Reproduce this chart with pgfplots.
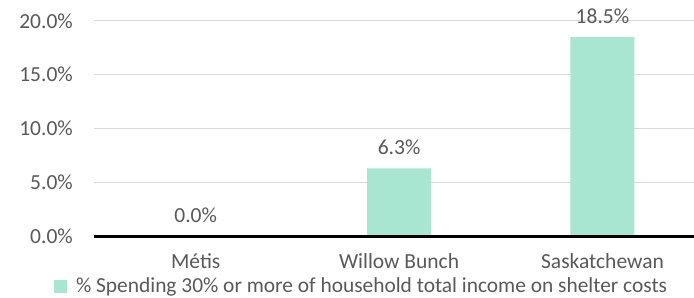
\documentclass[border=0pt]{standalone}
\usepackage{fontspec}
\setmainfont{Carlito}
\usepackage{pgfplots}
\pgfplotsset{compat=1.18}
\definecolor{barc}{RGB}{168,230,210}
\definecolor{txt}{RGB}{89,89,89}
\definecolor{gridc}{RGB}{217,217,217}
\begin{document}
\fontsize{21.5bp}{24bp}\selectfont
\begin{tikzpicture}
\useasboundingbox (-94bp,-62bp) rectangle (600bp,236bp);
\begin{axis}[
  at={(0,0)}, anchor=south west,
  scale only axis, width=600bp, height=215bp,
  xmin=-0.5, xmax=2.45, ymin=0, ymax=20,
  axis x line*=bottom, axis y line*=left,
  x axis line style={line width=3bp, -},
  y axis line style={draw=none},
  ytick={0,5,10,15,20},
  ymajorgrids, xmajorgrids=false, grid style={gridc, line width=1bp},
  xtick=data, xticklabels={Métis, Willow Bunch, Saskatchewan},
  major tick length=0pt,
  tick label style={font=\fontsize{21.5bp}{24bp}\selectfont, text=txt},
  /pgf/number format/assume math mode=true,
  yticklabel={\pgfmathprintnumber[fixed,fixed zerofill,precision=1]{\tick}\%},
  yticklabel style={anchor=east, inner xsep=0pt, xshift=-21bp},
  xticklabel style={yshift=-10bp},
  clip=false,
  ybar, bar width=64bp,
  nodes near coords={\pgfmathprintnumber[fixed,fixed zerofill,precision=1]{\pgfplotspointmeta}\%},
  every node near coord/.append style={font=\fontsize{21.5bp}{24bp}\selectfont, text=txt, yshift=6bp},
  legend style={at={(axis description cs:0.446,-0.237)}, anchor=center, draw=none, fill=none,
    font=\fontsize{21.4bp}{24bp}\selectfont, text=txt, inner sep=0pt, column sep=7bp},
]
\addplot[fill=barc, draw=none, legend image code/.code={\fill[barc] (0bp,-6.5bp) rectangle (13bp,6.5bp);}] coordinates {(0,0) (1,6.3) (2,18.5)};
\addlegendentry{\% Spending 30\% or more of household total income on shelter costs}
\draw[black, line width=3bp] (axis cs:-0.5,0) -- (axis cs:2.45,0);
\end{axis}
\end{tikzpicture}
\end{document}
